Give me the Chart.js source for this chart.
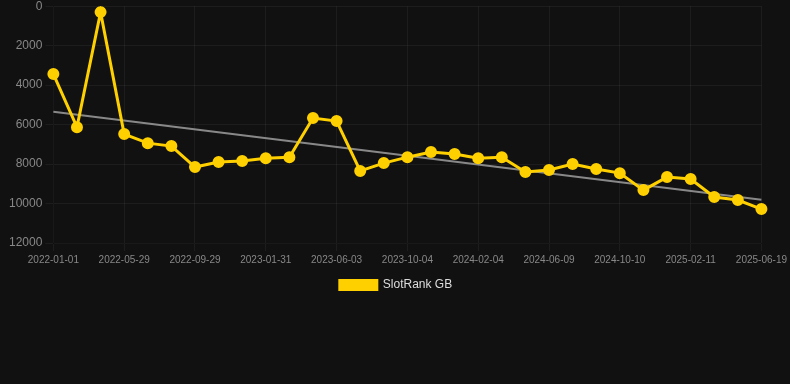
<!DOCTYPE html>
<html>
<head>
<meta charset="utf-8">
<script src="https://cdn.jsdelivr.net/npm/chart.js@4/dist/chart.umd.min.js"></script>
<style>
  html, body { margin: 0; padding: 0; background: #111111; overflow: hidden; }
  #wrap { width: 790px; height: 305px; position: relative; margin-top: -4px; }
</style>
</head>
<body>
<div id="wrap"><canvas id="grafico"></canvas></div>
<script>
// fechas del eje x
const fechas = [
  "2022-01-01", "2022-02-15", "2022-04-05", "2022-05-29", "2022-07-10", "2022-08-20",
  "2022-09-29", "2022-11-10", "2022-12-20", "2023-01-31", "2023-03-14", "2023-04-23",
  "2023-06-03", "2023-07-15", "2023-08-24", "2023-10-04", "2023-11-15", "2023-12-26",
  "2024-02-04", "2024-03-17", "2024-04-28", "2024-06-09", "2024-07-20", "2024-08-30",
  "2024-10-10", "2024-11-21", "2025-01-01", "2025-02-11", "2025-03-25", "2025-05-08",
  "2025-06-19"
];

// ranking (eje invertido)
const rankGB = [
  3440, 6130, 300, 6480, 6940, 7090, 8150, 7900, 7850, 7700, 7650, 5670,
  5820, 8350, 7950, 7650, 7390, 7490, 7700, 7650, 8400, 8300, 8000, 8250,
  8460, 9320, 8660, 8760, 9670, 9820, 10280
];

// tendencia: solo extremos, el resto se une con spanGaps
const tendencia = [5350].concat(new Array(29).fill(null), [9810]);

const yTicks = [0, 2000, 4000, 6000, 8000, 10000, 12000];

const fuente = "'Liberation Sans', Arial, Helvetica, sans-serif";

new Chart(document.getElementById("grafico").getContext("2d"), {
  type: "line",
  data: {
    labels: fechas,
    datasets: [
      {
        label: "SlotRank GB",
        data: rankGB,
        borderColor: "#FFD000",
        backgroundColor: "#FFD000",
        borderWidth: 3,
        pointRadius: 4.5,
        pointHoverRadius: 6,
        tension: 0
      },
      {
        label: "trend",
        data: tendencia,
        borderColor: "rgba(150,150,150,0.9)",
        borderWidth: 2,
        pointRadius: 0,
        spanGaps: true
      }
    ]
  },
  options: {
    responsive: true,
    maintainAspectRatio: false,
    animation: false,
    layout: { padding: { left: 6, right: 4, top: 0, bottom: 0 } },
    plugins: {
      legend: {
        position: "bottom",
        labels: {
          color: "#dddddd",
          font: { family: fuente, size: 12 },
          boxWidth: 37,
          boxHeight: 9,
          filter: item => item.text !== "trend"
        }
      },
      tooltip: { enabled: false }
    },
    scales: {
      x: {
        grid: { color: "rgba(255,255,255,0.05)" },
        ticks: {
          color: "#888888",
          font: { family: fuente, size: 10 },
          maxRotation: 0,
          autoSkip: true,
          maxTicksLimit: 11
        }
      },
      y: {
        reverse: true,
        min: 0,
        max: 12000,
        afterBuildTicks: axis => { axis.ticks = yTicks.map(v => ({ value: v })); },
        grid: { color: "rgba(255,255,255,0.05)" },
        ticks: {
          color: "#888888",
          font: { family: fuente, size: 12 },
          callback: v => String(v)
        }
      }
    }
  }
});
</script>
</body>
</html>
